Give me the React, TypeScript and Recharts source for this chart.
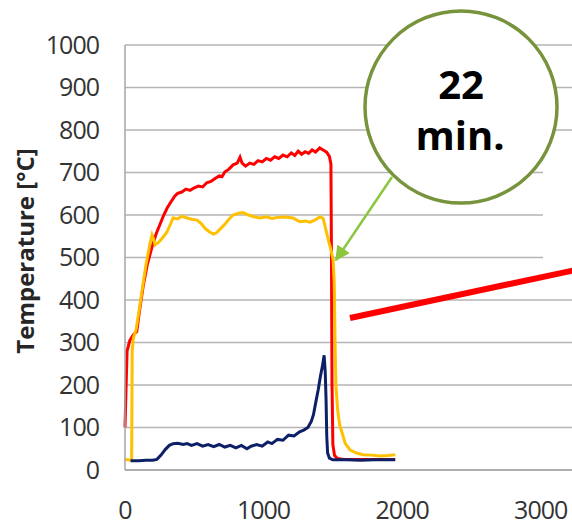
import { LineChart, Line, XAxis, YAxis, CartesianGrid } from 'recharts';

// time [s] / temperature [°C]
const redSeries = [
    [0, 100], [15, 280], [35, 305], [60, 318], [85, 326], [105, 375], [130, 430], [160, 482],
    [195, 525], [225, 556], [255, 580], [280, 600], [305, 617], [330, 630], [360, 645], [380, 651],
    [410, 654], [440, 661], [470, 658], [500, 664], [530, 668], [560, 666], [590, 676], [620, 679],
    [650, 686], [680, 692], [700, 690], [720, 701], [750, 708], [780, 718], [810, 722], [830, 736],
    [845, 722], [870, 715], [900, 722], [930, 719], [960, 728], [990, 725], [1020, 733], [1050, 729],
    [1080, 737], [1110, 733], [1140, 741], [1170, 737], [1200, 746], [1225, 740], [1250, 750],
    [1275, 743], [1300, 749], [1325, 745], [1350, 753], [1375, 748], [1405, 758], [1430, 753],
    [1455, 748], [1475, 738], [1486, 720], [1490, 500], [1494, 200], [1500, 60], [1512, 34],
    [1535, 27], [1580, 25], [1700, 25], [1850, 25], [1950, 25],
];

const yellowSeries = [
    [0, 25], [40, 23], [48, 25], [52, 280], [60, 310], [80, 330], [100, 372], [120, 415],
    [150, 480], [180, 532], [195, 553], [205, 545], [217, 530], [240, 535], [270, 546], [303, 560],
    [330, 580], [347, 593], [380, 591], [410, 597], [448, 593], [480, 590], [520, 588], [550, 580],
    [580, 568], [610, 560], [640, 555], [660, 558], [690, 568], [720, 578], [750, 590], [780, 600],
    [820, 604], [852, 606], [890, 600], [930, 596], [975, 593], [1020, 596], [1060, 592],
    [1097, 594], [1150, 595], [1213, 593], [1240, 588], [1264, 584], [1300, 586], [1336, 583],
    [1370, 588], [1408, 596], [1430, 592], [1450, 565], [1470, 538], [1485, 520], [1502, 494],
    [1510, 440], [1516, 300], [1522, 200], [1535, 140], [1550, 105], [1567, 87], [1590, 62],
    [1625, 47], [1670, 40], [1718, 36], [1780, 35], [1840, 33], [1900, 34], [1950, 36],
];

const navySeries = [
    [40, 22], [100, 22], [150, 23], [200, 23], [230, 25], [260, 35], [290, 48], [320, 58],
    [347, 62], [380, 63], [420, 60], [448, 62], [480, 58], [520, 62], [560, 56], [600, 60],
    [640, 55], [680, 60], [720, 54], [760, 58], [800, 52], [840, 58], [880, 50], [910, 56],
    [950, 60], [990, 56], [1030, 66], [1060, 62], [1100, 72], [1140, 70], [1180, 82], [1220, 80],
    [1260, 90], [1290, 94], [1320, 100], [1345, 115], [1360, 130], [1380, 165], [1395, 190],
    [1410, 220], [1425, 245], [1437, 270], [1445, 230], [1451, 165], [1456, 80], [1462, 40],
    [1475, 28], [1500, 24], [1600, 24], [1700, 23], [1800, 24], [1950, 24],
];

const xTicks = [0, 1000, 2000, 3000];
const yTicks = [0, 100, 200, 300, 400, 500, 600, 700, 800, 900, 1000];

const toPoints = (rows: number[][]) => rows.map(([t, v]) => ({ t, v }));

const tickStyle = { fontFamily: 'Open Sans', fontSize: 25, fill: '#333', letterSpacing: -1 };

export default function App() {
    return (
        <div style={{ position: 'fixed', left: 0, top: 0, width: 572, height: 525, overflow: 'hidden', background: '#fff' }}>
            <LineChart width={610} height={525} margin={{ top: 45, right: 0, bottom: 0, left: 0 }}>
                <CartesianGrid vertical={false} stroke="#b5b5b5" strokeWidth={1.5} />
                <XAxis
                    type="number"
                    dataKey="t"
                    domain={[0, 3500]}
                    ticks={xTicks}
                    height={55}
                    tickSize={0}
                    tickMargin={31}
                    stroke="#a6a6a6"
                    strokeWidth={1.5}
                    tick={tickStyle}
                />
                <YAxis
                    type="number"
                    domain={[0, 1000]}
                    ticks={yTicks}
                    width={125}
                    tickSize={0}
                    tickMargin={26}
                    stroke="#a6a6a6"
                    strokeWidth={1.5}
                    tick={tickStyle}
                    label={{
                        content: () => (
                            <text
                                x={24}
                                y={251}
                                transform="rotate(-90 24 251)"
                                textAnchor="middle"
                                dominantBaseline="central"
                                style={{ fontFamily: 'Open Sans', fontWeight: 700, fontSize: 24, fill: '#262626' }}
                            >
                                Temperature [°C]
                            </text>
                        ),
                    }}
                />
                <Line data={toPoints(redSeries)} dataKey="v" stroke="#ff0000" strokeWidth={3} dot={false} isAnimationActive={false} />
                <Line data={toPoints(yellowSeries)} dataKey="v" stroke="#ffc000" strokeWidth={3} dot={false} isAnimationActive={false} />
                <Line data={toPoints(navySeries)} dataKey="v" stroke="#0d1f66" strokeWidth={3} dot={false} isAnimationActive={false} />
            </LineChart>
            <svg width={572} height={525} style={{ position: 'absolute', left: 0, top: 0, pointerEvents: 'none' }}>
                <defs>
                    <marker id="head" viewBox="0 0 10 10" refX="9" refY="5" markerWidth="6" markerHeight="6" orient="auto">
                        <path d="M0,0 L10,5 L0,10 z" fill="#8cc63f" />
                    </marker>
                </defs>
                {/* white box from the source slide hiding the grid's right ends */}
                <rect x={543} y={150} width={29} height={135} fill="#fff" />
                <line x1={392} y1={177} x2={336} y2={260} stroke="#8cc63f" strokeWidth={2.5} markerEnd="url(#head)" />
                <circle cx={461} cy={107} r={96} fill="#fff" stroke="#77933c" strokeWidth={3.5} />
                <text x={461} y={99} textAnchor="middle" style={{ fontFamily: 'Open Sans', fontWeight: 700, fontSize: 40, fill: '#000' }}>22</text>
                <text x={460} y={150} textAnchor="middle" style={{ fontFamily: 'Open Sans', fontWeight: 700, fontSize: 40, fill: '#000' }}>min.</text>
                <line x1={350} y1={318} x2={580} y2={269} stroke="#ff0000" strokeWidth={6} />
            </svg>
        </div>
    );
}
